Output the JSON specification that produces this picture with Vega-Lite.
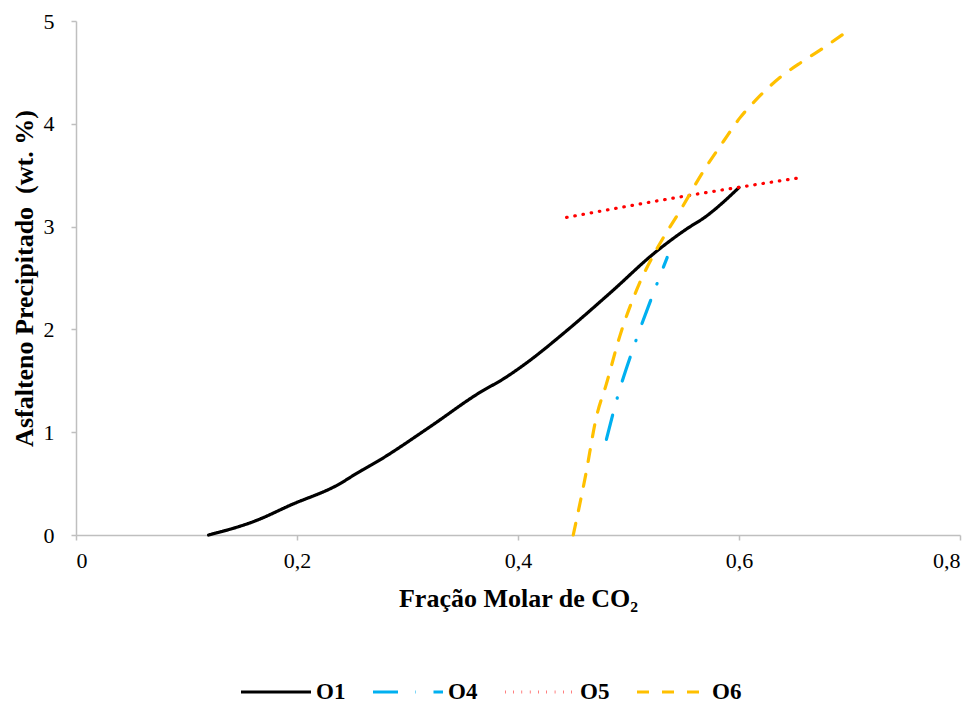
{
  "$schema": "https://vega.github.io/schema/vega-lite/v6.json",
  "width": 884,
  "height": 514,
  "autosize": {"type": "none"},
  "padding": {"left": 76, "top": 21, "right": 18, "bottom": 172},
  "background": "white",
  "config": {
    "view": {"stroke": null},
    "font": "Liberation Serif",
    "axis": {
      "grid": false,
      "domainColor": "#bfbfbf",
      "tickColor": "#bfbfbf",
      "domainWidth": 1.5,
      "tickWidth": 1.5,
      "tickSize": 5,
      "labelFont": "Liberation Serif",
      "labelFontSize": 22,
      "labelColor": "#000000",
      "titleFont": "Liberation Serif",
      "titleFontSize": 26,
      "titleFontWeight": "bold",
      "titleColor": "#000000"
    }
  },
  "data": {
    "values": [
      {"serie": "O1", "x": 0.120, "y": 0.00},
      {"serie": "O1", "x": 0.163, "y": 0.14},
      {"serie": "O1", "x": 0.194, "y": 0.29},
      {"serie": "O1", "x": 0.239, "y": 0.50},
      {"serie": "O1", "x": 0.254, "y": 0.60},
      {"serie": "O1", "x": 0.275, "y": 0.73},
      {"serie": "O1", "x": 0.320, "y": 1.05},
      {"serie": "O1", "x": 0.366, "y": 1.39},
      {"serie": "O1", "x": 0.387, "y": 1.52},
      {"serie": "O1", "x": 0.411, "y": 1.70},
      {"serie": "O1", "x": 0.441, "y": 1.96},
      {"serie": "O1", "x": 0.486, "y": 2.38},
      {"serie": "O1", "x": 0.522, "y": 2.73},
      {"serie": "O1", "x": 0.553, "y": 2.98},
      {"serie": "O1", "x": 0.569, "y": 3.09},
      {"serie": "O1", "x": 0.600, "y": 3.38},
      {"serie": "O4", "x": 0.480, "y": 0.93},
      {"serie": "O4", "x": 0.490, "y": 1.34},
      {"serie": "O4", "x": 0.507, "y": 1.90},
      {"serie": "O4", "x": 0.526, "y": 2.45},
      {"serie": "O4", "x": 0.535, "y": 2.70},
      {"serie": "O5", "x": 0.444, "y": 3.09},
      {"serie": "O5", "x": 0.553, "y": 3.30},
      {"serie": "O5", "x": 0.652, "y": 3.47},
      {"serie": "O6", "x": 0.450, "y": 0.00},
      {"serie": "O6", "x": 0.461, "y": 0.57},
      {"serie": "O6", "x": 0.471, "y": 1.15},
      {"serie": "O6", "x": 0.480, "y": 1.47},
      {"serie": "O6", "x": 0.492, "y": 1.93},
      {"serie": "O6", "x": 0.510, "y": 2.45},
      {"serie": "O6", "x": 0.525, "y": 2.77},
      {"serie": "O6", "x": 0.547, "y": 3.16},
      {"serie": "O6", "x": 0.569, "y": 3.56},
      {"serie": "O6", "x": 0.586, "y": 3.83},
      {"serie": "O6", "x": 0.601, "y": 4.06},
      {"serie": "O6", "x": 0.616, "y": 4.24},
      {"serie": "O6", "x": 0.637, "y": 4.45},
      {"serie": "O6", "x": 0.658, "y": 4.61},
      {"serie": "O6", "x": 0.678, "y": 4.75},
      {"serie": "O6", "x": 0.694, "y": 4.87}
    ]
  },
  "mark": {"type": "line", "interpolate": "monotone", "strokeWidth": 3.2, "strokeCap": "round"},
  "encoding": {
    "x": {
      "field": "x",
      "type": "quantitative",
      "scale": {"domain": [0, 0.8], "nice": false, "zero": false},
      "axis": {
        "values": [0, 0.2, 0.4, 0.6, 0.8],
        "labelExpr": "replace(format(datum.value, '~g'), '.', ',')",
        "labelPadding": 10,
        "title": "Fração Molar de CO₂",
        "titlePadding": 14
      }
    },
    "y": {
      "field": "y",
      "type": "quantitative",
      "scale": {"domain": [0, 5], "nice": false},
      "axis": {
        "values": [0, 1, 2, 3, 4, 5],
        "labelPadding": 17,
        "title": "Asfalteno Precipitado\u00a0 (wt. %)",
        "titlePadding": 6
      }
    },
    "color": {
      "field": "serie",
      "type": "nominal",
      "scale": {"domain": ["O1", "O4", "O5", "O6"], "range": ["#000000", "#00b0f0", "#ff0000", "#ffc000"]},
      "legend": {
        "title": null,
        "orient": "none",
        "direction": "horizontal",
        "legendX": 163,
        "legendY": 634,
        "symbolType": "stroke",
        "symbolSize": 4900,
        "symbolStrokeWidth": 3.2,
        "labelFont": "Liberation Serif",
        "labelFontSize": 23,
        "labelFontWeight": "bold",
        "labelColor": "#000000",
        "labelOffset": 3,
        "columnPadding": 20,
        "symbolOffset": 0
      }
    },
    "strokeDash": {
      "field": "serie",
      "type": "nominal",
      "scale": {"domain": ["O1", "O4", "O5", "O6"], "range": [[1, 0], [25, 17.5, 0.5, 17.5], [0.5, 7.8], [12, 13]]},
      "legend": null
    }
  }
}
